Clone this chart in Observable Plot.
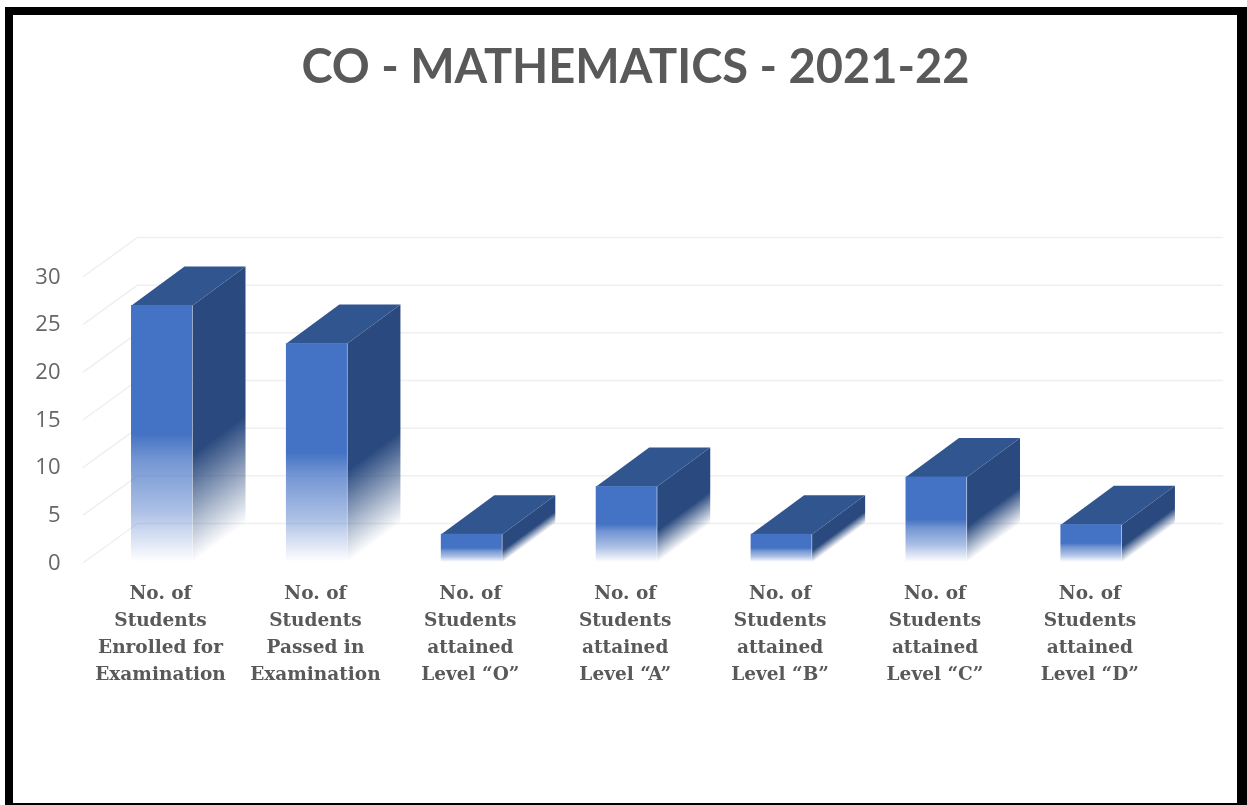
<!DOCTYPE html>
<html>
<head>
<meta charset="utf-8">
<script src="https://cdn.jsdelivr.net/npm/d3@7"></script>
<script src="https://cdn.jsdelivr.net/npm/@observablehq/plot@0.6"></script>
<style>
  html, body { margin: 0; padding: 0; background: #fff; overflow: hidden; }
  #page { position: relative; width: 1247px; height: 805px; overflow: hidden; }
  #frame { position: absolute; left: 5px; top: 7px; right: 0; bottom: 0; border: solid #000; border-width: 8px 10px 2px 8px; pointer-events: none; }
  #title { height: 110px; box-sizing: border-box; padding-top: 36px; text-align: center; font: 700 47px/58px Lato, sans-serif; color: #595959; padding-left: 24px; white-space: nowrap; filter: blur(0.5px); }
  #chart { filter: blur(0.6px); }
  svg { display: block; }
</style>
</head>
<body>
<div id="page">
  <div id="title"></div>
  <div id="chart"></div>
  <div id="frame"></div>
</div>
<script>
const chartTitle = "CO - MATHEMATICS - 2021-22";
const categories = [
  "No. of\nStudents\nEnrolled for\nExamination",
  "No. of\nStudents\nPassed in\nExamination",
  "No. of\nStudents\nattained\nLevel “O”",
  "No. of\nStudents\nattained\nLevel “A”",
  "No. of\nStudents\nattained\nLevel “B”",
  "No. of\nStudents\nattained\nLevel “C”",
  "No. of\nStudents\nattained\nLevel “D”"
];
const values = [26, 22, 2, 7, 2, 8, 3];
const yTicks = [0, 5, 10, 15, 20, 25, 30];

document.getElementById("title").textContent = chartTitle;

// Oblique projection of the 3D column chart, in scale units
const depthY = 4.09, depthX = 0.342, lift = 0.96;
const barLeft = -0.2, barRight = 0.194;
const wallLeft = -0.51, wallMid = -0.161, wallRight = 6.843;
const pxPerUnit = 286 / 30;

const xIdx = categories.map((_, i) => i);

const gridLines = yTicks.map(t => [
  {x: wallLeft, y: t},
  {x: wallMid, y: t + depthY},
  {x: wallRight, y: t + depthY}
]);
const sideFace = (v, i) => [
  {x: i + barRight, y: 0},
  {x: i + barRight, y: v + lift},
  {x: i + barRight + depthX, y: v + lift + depthY},
  {x: i + barRight + depthX, y: depthY}
];
const topFace = (v, i) => [
  {x: i + barLeft, y: v + lift},
  {x: i + barRight, y: v + lift},
  {x: i + barRight + depthX, y: v + lift + depthY},
  {x: i + barLeft + depthX, y: v + lift + depthY}
];

function gradients() {
  const defs = d3.create("svg:defs");
  const front = defs.append("linearGradient").attr("id", "front")
    .attr("x1", 0).attr("y1", 0).attr("x2", 0).attr("y2", 1);
  [[0, 1], [0.5, 1], [0.6, 0.75], [0.8, 0.45], [1, 0]].forEach(([o, a]) =>
    front.append("stop").attr("offset", o).attr("stop-color", "#4472C4").attr("stop-opacity", a));
  values.forEach((v, i) => {
    const H = (v + lift + depthY) * pxPerUnit;
    const d = depthY * pxPerUnit / H;
    const k = (1 - d) / (1 + d * d);
    const g = defs.append("linearGradient").attr("id", `side${i}`)
      .attr("x1", 0).attr("y1", d).attr("x2", k * d).attr("y2", d + k);
    [[0, 1], [0.58, 1], [1, 0]].forEach(([o, a]) =>
      g.append("stop").attr("offset", o).attr("stop-color", "#2A4A7F").attr("stop-opacity", a));
  });
  return defs.node();
}

const chart = Plot.plot({
  width: 1247,
  height: 695,
  marginLeft: 65,
  marginRight: 0,
  marginTop: 0,
  marginBottom: 226,
  style: {background: "transparent", overflow: "visible"},
  x: {domain: [0, 6], range: [162, 1091.4], label: null},
  y: {domain: [0, 30], range: [452, 166], label: null},
  marks: [
    gradients,
    ...gridLines.map(l => Plot.line(l, {x: "x", y: "y", stroke: "#EFEFEF", strokeWidth: 1.5})),
    ...values.map((v, i) => Plot.line(sideFace(v, i), {x: "x", y: "y", fill: `url(#side${i})`, stroke: "none"})),
    ...values.map((v, i) => Plot.line(topFace(v, i), {x: "x", y: "y", fill: "#31558F", stroke: "none"})),
    Plot.rect(values, {
      x1: (v, i) => i + barLeft,
      x2: (v, i) => i + barRight,
      y1: () => 0,
      y2: v => v + lift,
      fill: "url(#front)"
    }),
    Plot.axisY(yTicks, {
      anchor: "left", tickSize: 0, tickPadding: 5, label: null,
      fontSize: 22, fontFamily: "Open Sans", fill: "#666666"
    }),
    Plot.axisX(xIdx, {
      anchor: "bottom", tickSize: 0, tickPadding: 0, label: null, dx: -2,
      tickFormat: i => categories[i], lineHeight: 1.46, textOverflow: null,
      fontSize: 18.5, fontFamily: "DejaVu Serif", fontWeight: "bold", fill: "#595959"
    })
  ]
});
document.getElementById("chart").appendChild(chart);
</script>
</body>
</html>
